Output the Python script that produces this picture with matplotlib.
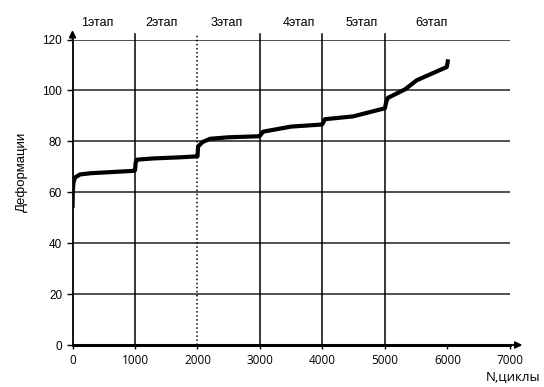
import matplotlib.pyplot as plt

# Деформации по циклам нагружения (6 этапов)
cycles = [0, 5, 15, 40, 120, 300, 600, 970, 1000, 1010, 1030, 1300, 1700, 1990,
          2000, 2010, 2080, 2200, 2500, 2990, 3000, 3050, 3500, 3990,
          4000, 4040, 4490, 5000, 5020, 5050, 5320, 5510, 5990, 6000, 6010]
deform = [53.8, 60.5, 63.8, 65.8, 67.0, 67.5, 67.9, 68.4, 68.6, 71.5, 72.8, 73.3, 73.7, 74.1,
          74.1, 78.0, 79.7, 81.0, 81.6, 82.0, 82.2, 83.8, 85.8, 86.6,
          86.8, 88.7, 89.8, 93.0, 95.5, 97.1, 100.4, 104.0, 109.2, 110.5, 112.2]

stage_names = ['1этап', '2этап', '3этап', '4этап', '5этап', '6этап']
stage_label_pos = [390, 1420, 2470, 3620, 4630, 5740]
stage_bounds = [1000, 2000, 3000, 4000, 5000]

yticks = [0, 20, 40, 60, 80, 100, 120]
xticks = [0, 1000, 2000, 3000, 4000, 5000, 6000, 7000]

fig = plt.figure(figsize=(5.44, 3.87), dpi=100)
ax = fig.add_axes([0.1333, 0.1085, 0.804, 0.7894])
ax.set_xlim(0, 7000)
ax.set_ylim(0, 120)

# горизонтальная сетка
for y in yticks[1:]:
    ax.plot([0, 7000], [y, y], color='#222222', lw=1.1, zorder=1)

# границы этапов
for xb in stage_bounds:
    ls = ':' if xb == 2000 else '-'
    ax.plot([xb, xb], [0, 122], color='black', lw=1.1, ls=ls, clip_on=False, zorder=1)

ax.plot(cycles, deform, color='black', lw=3.0, solid_capstyle='butt', zorder=3)

for name, xp in zip(stage_names, stage_label_pos):
    ax.text(xp, 1.055, name, transform=ax.get_xaxis_transform(), ha='center',
            va='center', fontsize=9, family='Liberation Sans')

for s in ['top', 'right']:
    ax.spines[s].set_visible(False)
ax.spines['left'].set_linewidth(1.3)
ax.spines['bottom'].set_linewidth(2.2)

# стрелки осей
ax.annotate('', xy=(0, 1.04), xytext=(0, 0.99), xycoords='axes fraction',
            arrowprops=dict(arrowstyle='-|>', color='black', lw=1.3, mutation_scale=10),
            annotation_clip=False)
ax.annotate('', xy=(1.035, 0), xytext=(0.99, 0), xycoords='axes fraction',
            arrowprops=dict(arrowstyle='-|>', color='black', lw=1.3, mutation_scale=10),
            annotation_clip=False)

ax.set_yticks(yticks)
ax.set_xticks(xticks)
ax.tick_params(axis='y', length=4, width=1, labelsize=8.5)
ax.tick_params(axis='x', length=3, width=1, labelsize=8.5)
for lab in ax.get_yticklabels():
    lab.set_family('Liberation Sans')
for lab in ax.get_xticklabels():
    lab.set_family('Open Sans')

fig.text(21.5 / 544, 1 - 172 / 387, 'Деформации', rotation=90, ha='center', va='center',
         fontsize=9.5, family='Liberation Sans')
fig.text(0.993, 0.017, 'N,циклы', ha='right', va='baseline', fontsize=9.5, family='Open Sans')

fig.savefig('out.png', dpi=100)
